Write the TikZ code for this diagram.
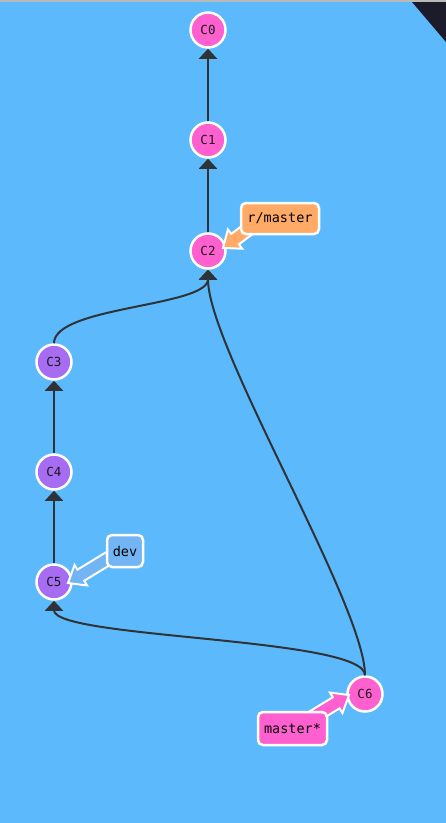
\documentclass[tikz,border=0pt]{standalone}
\usepackage{fontspec}
\newfontfamily\monofont{DejaVu Sans Mono}
\usetikzlibrary{arrows.meta,calc}
\definecolor{bg}{HTML}{5CB9FB}
\definecolor{cpink}{HTML}{FF60CF}
\definecolor{cpurple}{HTML}{A66CF2}
\definecolor{corange}{HTML}{FFAA66}
\definecolor{cdev}{HTML}{72B4F4}
\definecolor{cedge}{HTML}{2F3337}
\definecolor{ccorner}{HTML}{1B1B29}
\tikzset{
  commit/.style={circle, draw=white, line width=2.5pt, minimum size=35pt, inner sep=0pt,
    font=\fontsize{12.5}{13}\selectfont\monofont, text=black!90},
  pinkc/.style={commit, fill=cpink},
  purplec/.style={commit, fill=cpurple},
  edge/.style={draw=cedge, line width=2pt, -{Triangle[width=18pt,length=10pt]}},
  branchbox/.style={rounded corners=5pt, draw=white, line width=2.5pt, inner sep=0pt,
    font=\fontsize{13.5}{14}\selectfont\monofont, text=black},
}
\newcommand{\blockarr}[3]{%
  \coordinate (h) at ($(#1)!15pt!(#2)$);
  \filldraw[fill=#3, draw=white, line width=2pt, line join=miter]
    (#1) -- ($(h)!12pt!90:(#1)$) -- ($(h)!6.5pt!90:(#1)$) -- ($(#2)!6.5pt!90:(#1)$)
    -- ($(#2)!6.5pt!-90:(#1)$) -- ($(h)!6.5pt!-90:(#1)$) -- ($(h)!12pt!-90:(#1)$) -- cycle;
}
\begin{document}
\begin{tikzpicture}[x=1pt,y=-1pt]
  \fill[bg] (0,0) rectangle (446,823);
  \useasboundingbox (0,0) rectangle (446,823);
  \fill[gray!55] (0,0) rectangle (446,1.5);
  \fill[ccorner] (412,2) -- (446,2) -- (446,42) -- cycle;

  % commits
  \node[pinkc] (C0) at (208,30) {C0};
  \node[pinkc] (C1) at (208,140) {C1};
  \node[pinkc] (C2) at (208,251) {C2};
  \node[purplec] (C3) at (54,362) {C3};
  \node[purplec] (C4) at (54,472) {C4};
  \node[purplec] (C5) at (54,582) {C5};
  \node[pinkc] (C6) at (365,694) {C6};

  % edges
  \draw[edge] (C1.north) -- (C0.south);
  \draw[edge] (C2.north) -- (C1.south);
  \draw[edge] (C4.north) -- (C3.south);
  \draw[edge] (C5.north) -- (C4.south);
  \draw[edge] (C3.north) .. controls +(0,-37) and +(0,37) .. (C2.south);
  \draw[edge] (C6.north) .. controls +(0,-70) and +(0,78) .. (C2.south);
  \draw[edge] (C6.north) .. controls +(0,-38) and +(0,38) .. (C5.south);

  % branch arrows
  \coordinate (rmt) at (223,248);
  \coordinate (rms) at (254,225);
  \blockarr{rmt}{rms}{corange}
  \coordinate (dvt) at (68,583);
  \coordinate (dvs) at (114,555);
  \blockarr{dvt}{dvs}{cdev}
  \coordinate (mst) at (349,695);
  \coordinate (mss) at (303,723);
  \blockarr{mst}{mss}{cpink}

  % branch labels
  \node[branchbox, fill=corange, minimum width=78pt, minimum height=31pt] (rm) at (280,218.5) {r/master};
  \node[branchbox, fill=cdev, minimum width=36pt, minimum height=32pt] (dv) at (125,551) {dev};
  \node[branchbox, fill=cpink, minimum width=69pt, minimum height=33pt] (ms) at (292.5,728.5) {master*};
\end{tikzpicture}
\end{document}
